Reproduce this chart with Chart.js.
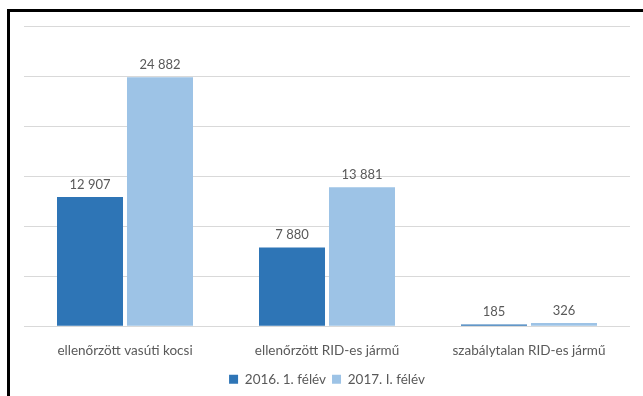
<!DOCTYPE html>
<html lang="hu">
<head>
<meta charset="UTF-8">
<title>Ellenőrzések</title>
<script src="https://cdn.jsdelivr.net/npm/chart.js"></script>
<style>
    html, body { margin: 0; padding: 0; background: #fff; overflow: hidden; }
    .frame {
        position: absolute;
        left: 7px; top: 9px;
        width: 700px; height: 450px;
        border: 3px solid #000;
    }
    .wrap { position: absolute; left: 0; top: 0; width: 643px; height: 396px; }
</style>
</head>
<body>
<div class="frame"></div>
<div class="wrap"><canvas id="chart"></canvas></div>
<script>
// adatok
const categories = ['ellenőrzött vasúti kocsi', 'ellenőrzött RID-es jármű', 'szabálytalan RID-es jármű'];
const seriesNames = ['2016. 1. félév', '2017. I. félév'];
const values2016 = [12907, 7880, 185];
const values2017 = [24882, 13881, 326];
const yTicks = [0, 5000, 10000, 15000, 20000, 25000, 30000];

const textColor = '#595959';
const fontFamily = 'Lato, "Open Sans", sans-serif';

// szóközös ezres tagolás: 24 882
const fmt = v => String(v).replace(/\B(?=(\d{3})+(?!\d))/g, ' ');

const valueLabels = {
    id: 'valueLabels',
    afterDatasetsDraw(chart) {
        const ctx = chart.ctx;
        ctx.save();
        ctx.font = '13px ' + fontFamily;
        ctx.fillStyle = textColor;
        ctx.textAlign = 'center';
        ctx.textBaseline = 'bottom';
        chart.data.datasets.forEach((ds, i) => {
            chart.getDatasetMeta(i).data.forEach((bar, j) => {
                ctx.fillText(fmt(ds.data[j]), bar.x, bar.y - 6);
            });
        });
        ctx.restore();
    }
};

new Chart(document.getElementById('chart'), {
    type: 'bar',
    data: {
        labels: categories,
        datasets: [
            { label: seriesNames[0], data: values2016, backgroundColor: '#2E75B6' },
            { label: seriesNames[1], data: values2017, backgroundColor: '#9DC3E6' }
        ]
    },
    options: {
        responsive: true,
        maintainAspectRatio: false,
        animation: false,
        categoryPercentage: 0.693,
        barPercentage: 0.943,
        layout: { padding: { left: 24, right: 13, top: 26, bottom: 0 } },
        plugins: {
            tooltip: { enabled: false },
            legend: {
                position: 'bottom',
                labels: {
                    boxWidth: 9, boxHeight: 9, padding: 6,
                    color: textColor,
                    font: { family: fontFamily, size: 13.5 }
                }
            }
        },
        scales: {
            x: {
                grid: { display: false },
                border: { display: false },
                ticks: { color: textColor, font: { family: fontFamily, size: 13.5 }, padding: 8 }
            },
            y: {
                min: yTicks[0],
                max: yTicks[yTicks.length - 1],
                afterBuildTicks: axis => { axis.ticks = yTicks.map(v => ({ value: v })); },
                ticks: { display: false },
                grid: { color: '#d9d9d9', drawTicks: false },
                border: { display: false }
            }
        }
    },
    plugins: [valueLabels]
});
</script>
</body>
</html>
